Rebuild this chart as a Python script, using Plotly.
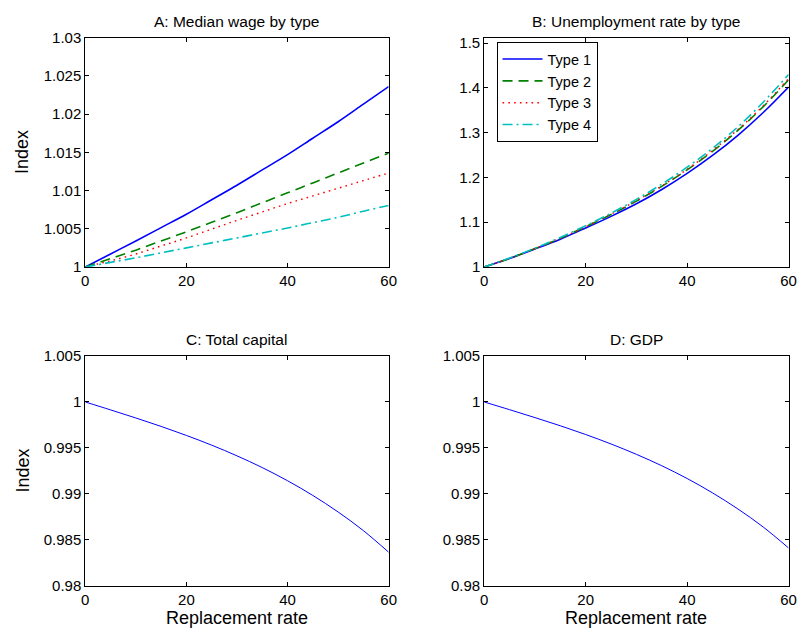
import plotly.graph_objects as go

W, H = 804, 640

# ---------------- data ----------------
rate = [0, 5, 10, 15, 20, 25, 30, 35, 40, 45, 50, 55, 60]

wage_t1 = [1.0000, 1.0017, 1.0034, 1.00515, 1.0069, 1.0088, 1.0107, 1.0127, 1.0147, 1.01685, 1.0190, 1.0213, 1.0236]
wage_t2 = [1.0000, 1.0011, 1.0022, 1.0034, 1.0046, 1.00585, 1.0071, 1.0084, 1.0097, 1.0110, 1.0123, 1.0136, 1.0149]
wage_t3 = [1.0000, 1.0008, 1.0017, 1.00275, 1.0038, 1.00495, 1.0061, 1.0072, 1.0083, 1.0093, 1.0103, 1.0113, 1.0123]
wage_t4 = [1.0000, 1.0006, 1.0012, 1.00185, 1.0025, 1.00315, 1.0038, 1.00445, 1.0051, 1.0058, 1.0065, 1.0073, 1.00805]

unemp_t1 = [1.000, 1.019, 1.040, 1.062, 1.087, 1.113, 1.141, 1.173, 1.209, 1.249, 1.294, 1.345, 1.402]
unemp_t2 = [1.000, 1.019, 1.041, 1.064, 1.090, 1.117, 1.147, 1.180, 1.217, 1.258, 1.305, 1.358, 1.418]
unemp_t3 = [1.000, 1.019, 1.041, 1.064, 1.090, 1.118, 1.148, 1.181, 1.218, 1.260, 1.307, 1.360, 1.421]
unemp_t4 = [1.000, 1.020, 1.042, 1.066, 1.092, 1.120, 1.151, 1.185, 1.223, 1.265, 1.313, 1.368, 1.430]

capital = [1.0, 0.99914, 0.99826, 0.99734, 0.99636, 0.99530, 0.99414, 0.99286, 0.99143, 0.98983, 0.98803, 0.98600, 0.98365]
gdp = [1.0, 0.99916, 0.99830, 0.99741, 0.99646, 0.99543, 0.99430, 0.99306, 0.99167, 0.99011, 0.98836, 0.98639, 0.98411]

type_names = ["Type 1", "Type 2", "Type 3", "Type 4"]
panel_titles = ["A: Median wage by type", "B: Unemployment rate by type", "C: Total capital", "D: GDP"]

x_ticks = [0, 20, 40, 60]
a_ticks = [1, 1.005, 1.01, 1.015, 1.02, 1.025, 1.03]
a_labels = ["1", "1.005", "1.01", "1.015", "1.02", "1.025", "1.03"]
b_ticks = [1, 1.1, 1.2, 1.3, 1.4, 1.5]
b_labels = ["1", "1.1", "1.2", "1.3", "1.4", "1.5"]
c_ticks = [0.98, 0.985, 0.99, 0.995, 1, 1.005]
c_labels = ["0.98", "0.985", "0.99", "0.995", "1", "1.005"]

# ---------------- styling ----------------
colors = ["#0000FF", "#008000", "#FF0000", "#00BFBF"]
dashes = ["solid", "10px,6px", "1.6px,4.2px", "10px,4px,2px,4px"]
widths = [1.6, 1.6, 1.4, 1.6]
FONT = "Liberation Sans, Arial, Helvetica, sans-serif"

# pixel boxes (left, right, top, bottom)
boxes = {
    1: (82.5, 390.5, 29.5, 265),
    2: (487.5, 796.5, 29.5, 265),
    3: (82.5, 390.5, 356.5, 592.5),
    4: (487.5, 796.5, 356.5, 592.5),
}

def xd(b):
    return [b[0] / W, b[1] / W]

def yd(b):
    return [1 - b[3] / H, 1 - b[2] / H]

fig = go.Figure()

wages = [wage_t1, wage_t2, wage_t3, wage_t4]
unemps = [unemp_t1, unemp_t2, unemp_t3, unemp_t4]

for i in range(4):
    fig.add_trace(go.Scatter(x=rate, y=wages[i], mode="lines", name=type_names[i],
                             line=dict(color=colors[i], width=widths[i], dash=dashes[i], shape="spline"),
                             xaxis="x", yaxis="y", showlegend=False))
for i in range(4):
    fig.add_trace(go.Scatter(x=rate, y=unemps[i], mode="lines", name=type_names[i],
                             line=dict(color=colors[i], width=widths[i], dash=dashes[i], shape="spline"),
                             xaxis="x2", yaxis="y2", showlegend=True))

fig.add_trace(go.Scatter(x=rate, y=capital, mode="lines",
                         line=dict(color="#0000FF", width=1, shape="spline"),
                         xaxis="x3", yaxis="y3", showlegend=False))
fig.add_trace(go.Scatter(x=rate, y=gdp, mode="lines",
                         line=dict(color="#0000FF", width=1, shape="spline"),
                         xaxis="x4", yaxis="y4", showlegend=False))

TICKFONT = dict(family=FONT, size=15, color="black")

def xaxis(b, anchor):
    return dict(domain=xd(b), anchor=anchor, range=[0, 60], tickvals=x_ticks,
                ticktext=[str(v) for v in x_ticks],
                showline=True, linecolor="black", linewidth=1, mirror="ticks",
                ticks="inside", ticklen=4, tickcolor="black", showgrid=False, zeroline=False,
                tickfont=TICKFONT, fixedrange=True)

def yaxis(b, anchor, rng, tv, tt):
    return dict(domain=yd(b), anchor=anchor, range=rng, tickvals=tv, ticktext=tt,
                showline=True, linecolor="black", linewidth=1, mirror="ticks",
                ticks="inside", ticklen=4, tickcolor="black", showgrid=False, zeroline=False,
                tickfont=TICKFONT, fixedrange=True)

annotations = []
for k, t in zip([1, 2, 3, 4], panel_titles):
    b = boxes[k]
    annotations.append(dict(text=t, xref="paper", yref="paper",
                            x=(b[0] + b[1]) / 2 / W, y=1 - (b[2] - 17) / H,
                            xanchor="center", yanchor="middle", showarrow=False,
                            font=dict(family=FONT, size=15.5, color="black")))
for k in [1, 3]:
    b = boxes[k]
    annotations.append(dict(text="Index", xref="paper", yref="paper", textangle=-90,
                            x=19 / W, y=1 - (b[2] + b[3]) / 2 / H,
                            xanchor="center", yanchor="middle", showarrow=False,
                            font=dict(family=FONT, size=18, color="black")))
for k in [3, 4]:
    b = boxes[k]
    annotations.append(dict(text="Replacement rate", xref="paper", yref="paper",
                            x=(b[0] + b[1]) / 2 / W, y=1 - 626 / H,
                            xanchor="center", yanchor="middle", showarrow=False,
                            font=dict(family=FONT, size=18, color="black")))

fig.update_layout(
    width=W, height=H,
    margin=dict(l=0, r=0, t=0, b=0),
    paper_bgcolor="white", plot_bgcolor="white",
    xaxis=xaxis(boxes[1], "y"),
    yaxis=yaxis(boxes[1], "x", [1, 1.03], a_ticks, a_labels),
    xaxis2=xaxis(boxes[2], "y2"),
    yaxis2=yaxis(boxes[2], "x2", [1, 1.512], b_ticks, b_labels),
    xaxis3=xaxis(boxes[3], "y3"),
    yaxis3=yaxis(boxes[3], "x3", [0.98, 1.005], c_ticks, c_labels),
    xaxis4=xaxis(boxes[4], "y4"),
    yaxis4=yaxis(boxes[4], "x4", [0.98, 1.005], c_ticks, c_labels),
    legend=dict(x=500 / W, y=1 - 34 / H, xanchor="left", yanchor="top",
                bordercolor="black", borderwidth=1, bgcolor="white",
                font=dict(family=FONT, size=14.5, color="black"),
                tracegroupgap=0, itemwidth=40),
    annotations=annotations,
    showlegend=True,
)

fig.write_html("out.html")
